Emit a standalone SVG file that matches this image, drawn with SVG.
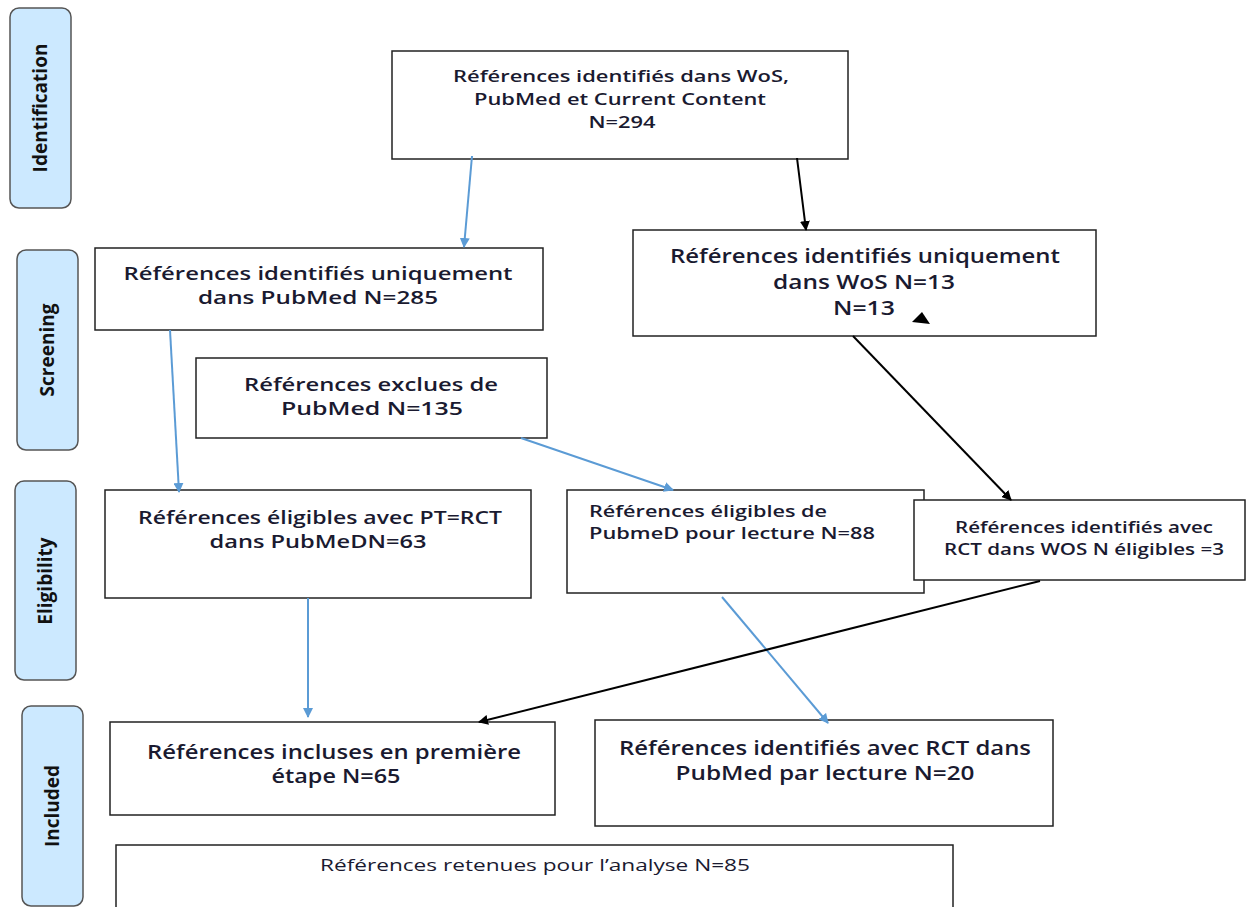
<svg xmlns="http://www.w3.org/2000/svg" width="1252" height="907" viewBox="0 0 1252 907">
<defs>
<marker id="ab" markerWidth="10" markerHeight="10" refX="9" refY="5" orient="auto" markerUnits="userSpaceOnUse"><path d="M0,0 L10,5 L0,10 z" fill="#5b9bd5"/></marker>
<marker id="ak" markerWidth="10" markerHeight="10" refX="9" refY="5" orient="auto" markerUnits="userSpaceOnUse"><path d="M0,0 L10,5 L0,10 z" fill="#000"/></marker>
</defs>
<style>
.stage{fill:#cce9ff;stroke:#555;stroke-width:1.5}
.st{font-family:"Open Sans","Noto Sans",sans-serif;font-weight:bold;font-size:19px;fill:#111;text-anchor:middle}
.box{fill:#fff;stroke:#222;stroke-width:1.5}
.t{font-family:"Open Sans","Noto Sans",sans-serif;font-weight:600;fill:#1a1a30;text-anchor:middle}
.l{text-anchor:start}
.r{font-weight:normal}
.blue{stroke:#5b9bd5;stroke-width:2;fill:none;marker-end:url(#ab)}
.blk{stroke:#000;stroke-width:2;fill:none;marker-end:url(#ak)}
</style>
<rect width="1252" height="907" fill="#fff"/>
<g id="stage-identification"><rect class="stage" x="10" y="8" width="61" height="200" rx="9"/><text class="st" transform="translate(47,108) rotate(-90)">Identification</text></g>
<g id="stage-screening"><rect class="stage" x="17" y="250" width="61" height="200" rx="9"/><text class="st" transform="translate(54,350) rotate(-90)">Screening</text></g>
<g id="stage-eligibility"><rect class="stage" x="15" y="481" width="61" height="199" rx="9"/><text class="st" transform="translate(52,581) rotate(-90)">Eligibility</text></g>
<g id="stage-included"><rect class="stage" x="22" y="706" width="61" height="200" rx="9"/><text class="st" transform="translate(59,806) rotate(-90)">Included</text></g>

<g id="n-top"><rect class="box" x="392" y="51" width="456" height="108"/><text class="t" font-size="17"><tspan x="621" y="82" textLength="336" lengthAdjust="spacingAndGlyphs">Références identifiés dans WoS,</tspan><tspan x="620" y="105" textLength="292" lengthAdjust="spacingAndGlyphs">PubMed et Current Content</tspan><tspan x="622" y="128" textLength="67" lengthAdjust="spacingAndGlyphs">N=294</tspan></text></g>
<g id="n-pubmed285"><rect class="box" x="95" y="248" width="448" height="82"/><text class="t" font-size="18.5"><tspan x="318" y="280" textLength="389" lengthAdjust="spacingAndGlyphs">Références identifiés uniquement</tspan><tspan x="318" y="304" textLength="240" lengthAdjust="spacingAndGlyphs">dans PubMed N=285</tspan></text></g>
<g id="n-wos13"><rect class="box" x="633" y="230" width="463" height="106"/><text class="t" font-size="19.5"><tspan x="865" y="263" textLength="390" lengthAdjust="spacingAndGlyphs">Références identifiés uniquement</tspan><tspan x="864" y="289" textLength="182" lengthAdjust="spacingAndGlyphs">dans WoS N=13</tspan><tspan x="864" y="315" textLength="62" lengthAdjust="spacingAndGlyphs">N=13</tspan></text><path d="M912,322 L930,324 L922,312 z" fill="#000"/></g>
<g id="n-exclues"><rect class="box" x="196" y="358" width="351" height="80"/><text class="t" font-size="18.5"><tspan x="371" y="391" textLength="254" lengthAdjust="spacingAndGlyphs">Références exclues de</tspan><tspan x="372" y="415" textLength="182" lengthAdjust="spacingAndGlyphs">PubMed N=135</tspan></text></g>
<g id="n-eligpt"><rect class="box" x="105" y="490" width="426" height="108"/><text class="t" font-size="18.5"><tspan x="320" y="524" textLength="364" lengthAdjust="spacingAndGlyphs">Références éligibles avec PT=RCT</tspan><tspan x="318" y="548" textLength="217" lengthAdjust="spacingAndGlyphs">dans PubMeDN=63</tspan></text></g>
<g id="n-elig88"><rect class="box" x="567" y="490" width="357" height="103"/><text class="t l" font-size="16.5"><tspan x="589" y="517" textLength="238" lengthAdjust="spacingAndGlyphs">Références éligibles de</tspan><tspan x="589" y="539" textLength="286" lengthAdjust="spacingAndGlyphs">PubmeD pour lecture N=88</tspan></text></g>
<g id="n-wos3"><rect class="box" x="914" y="500" width="331" height="80"/><text class="t" font-size="16.5"><tspan x="1084" y="533" textLength="258" lengthAdjust="spacingAndGlyphs">Références identifiés avec</tspan><tspan x="1084" y="555" textLength="280" lengthAdjust="spacingAndGlyphs">RCT dans WOS N éligibles =3</tspan></text></g>
<g id="n-incluses"><rect class="box" x="110" y="722" width="445" height="93"/><text class="t" font-size="19"><tspan x="334" y="759" textLength="374" lengthAdjust="spacingAndGlyphs">Références incluses en première</tspan><tspan x="336" y="783" textLength="129" lengthAdjust="spacingAndGlyphs">étape N=65</tspan></text></g>
<g id="n-rct20"><rect class="box" x="595" y="720" width="458" height="106"/><text class="t" font-size="19"><tspan x="825" y="755" textLength="412" lengthAdjust="spacingAndGlyphs">Références identifiés avec RCT dans</tspan><tspan x="825" y="780" textLength="299" lengthAdjust="spacingAndGlyphs">PubMed par lecture N=20</tspan></text></g>
<g id="n-retenues"><rect class="box" x="116" y="845" width="837" height="70"/><text class="t r" font-size="16.5"><tspan x="535" y="871" textLength="430" lengthAdjust="spacingAndGlyphs">Références retenues pour l’analyse N=85</tspan></text></g>

<g id="connectors">
<line class="blue" x1="472" y1="156" x2="464" y2="247"/>
<line class="blk" x1="797" y1="158" x2="806" y2="230"/>
<line class="blue" x1="170" y1="330" x2="179" y2="492"/>
<line class="blue" x1="521" y1="438" x2="673" y2="490"/>
<line class="blk" x1="853" y1="336" x2="1011" y2="500"/>
<line class="blue" x1="308" y1="598" x2="308" y2="717"/>
<line class="blue" x1="722" y1="597" x2="828" y2="723"/>
<line class="blk" x1="1040" y1="581" x2="479" y2="722"/>
</g>
</svg>
